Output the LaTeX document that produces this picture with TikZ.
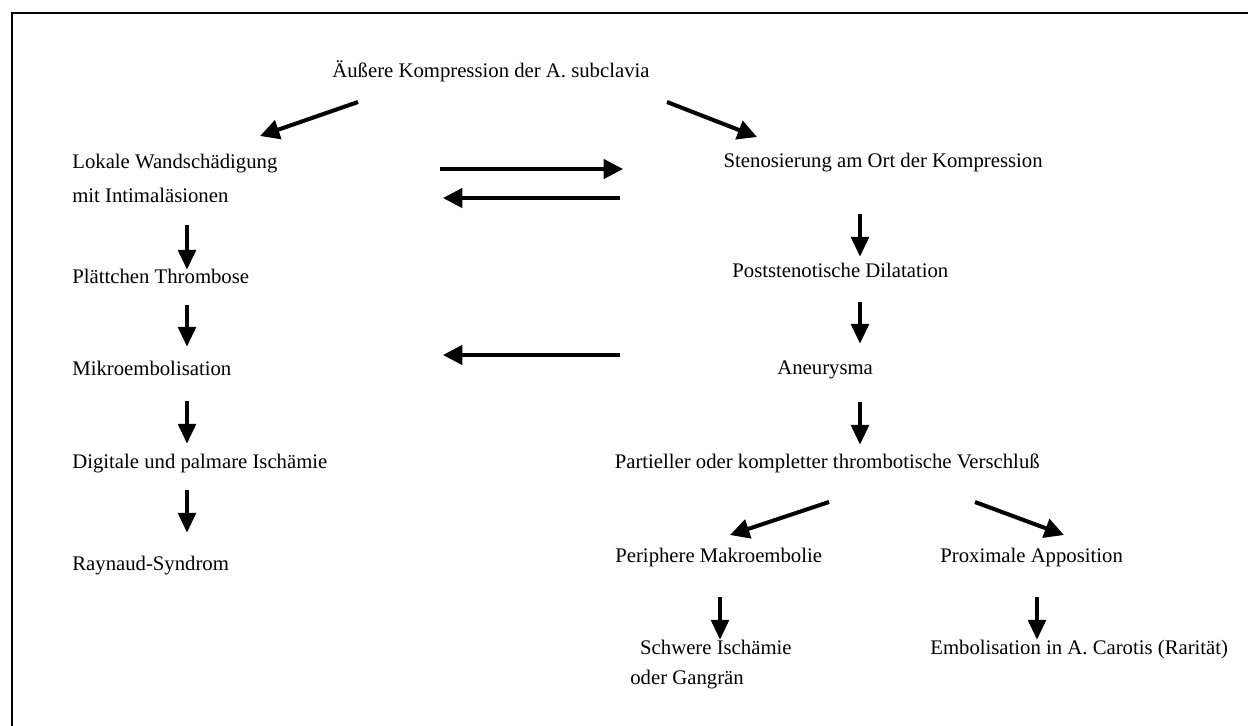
\documentclass[tikz,border=0pt]{standalone}
\usepackage{fontspec}
\setmainfont{Liberation Serif}
\usetikzlibrary{arrows.meta}

\tikzset{
  lbl/.style={inner sep=0pt, anchor=base west, font=\fontsize{11.8}{14}\selectfont},
  harrow/.style={-{Triangle[length=11pt,width=11pt]}, line width=1.9pt},
  varrow/.style={-{Triangle[length=11.5pt,width=9.8pt]}, line width=2.8pt},
  darrow/.style={-{Triangle[length=11pt,width=11pt]}, line width=2.3pt},
}

\begin{document}
\begin{tikzpicture}[x=0.02cm, y=-0.02cm]
                \useasboundingbox (0,0) rectangle (1248,725);
                % frame
                \draw[line width=1.4pt] (12,730) -- (12,13) -- (1260,13);

                % top
                \node[lbl] (kompr) at (332,77) {Äußere Kompression der A. subclavia};

                % left column
                \node[lbl, align=left, font=\fontsize{11.8}{19.3}\selectfont] (wand) at (72,202) {Lokale Wandschädigung\\mit Intimaläsionen};
                \node[lbl] (plaett) at (72,283) {Plättchen Thrombose};
                \node[lbl] (mikro) at (72,375) {Mikroembolisation};
                \node[lbl] (digit) at (72,468) {Digitale und palmare Ischämie};
                \node[lbl] (raynaud) at (72,570) {Raynaud-Syndrom};

                % right column
                \node[lbl, anchor=base east] (steno) at (1043,167) {Stenosierung am Ort der Kompression};
                \node[lbl] (dilat) at (732,277) {Poststenotische Dilatation};
                \node[lbl] (aneur) at (777,374) {Aneurysma};
                \node[lbl, anchor=base east] (verschl) at (1040,468) {Partieller oder kompletter thrombotische Verschluß};
                \node[lbl] (makro) at (615,562) {Periphere Makroembolie};
                \node[lbl] (appos) at (940,562) {Proximale Apposition};
                \node[lbl, align=left, font=\fontsize{11.8}{17}\selectfont] (gangr) at (630,684) {\hspace*{5.6pt}Schwere Ischämie\\oder Gangrän};
                \node[lbl] (carotis) at (930,654) {Embolisation in A. Carotis (Rarität)};

                % arrow ends
                \coordinate (k1) at (358,102); \coordinate (k1e) at (260,136);
                \coordinate (k2) at (667,102); \coordinate (k2e) at (757,137);
                \coordinate (w1) at (440,169); \coordinate (w1e) at (623,169);
                \coordinate (s1) at (620,198); \coordinate (s1e) at (443,198);
                \coordinate (a1) at (620,355); \coordinate (a1e) at (443,355);
                \coordinate (v1) at (829,502); \coordinate (v1e) at (730,535);
                \coordinate (v2) at (975,502); \coordinate (v2e) at (1064,535);

                % diagonal arrows
                \draw[darrow] (k1) -- (k1e);
                \draw[darrow] (k2) -- (k2e);
                \draw[darrow] (v1) -- (v1e);
                \draw[darrow] (v2) -- (v2e);

                % horizontal arrows
                \draw[harrow] (w1) -- (w1e);
                \draw[harrow] (s1) -- (s1e);
                \draw[harrow] (a1) -- (a1e);

                % left column arrows
                \draw[varrow] (187,225) -- (187,270);
                \draw[varrow] (187,305) -- (187,347);
                \draw[varrow] (187,401) -- (187,444);
                \draw[varrow] (187,490) -- (187,533);

                % right column arrows
                \draw[varrow] (860,214) -- (860,257);
                \draw[varrow] (860,302) -- (860,344);
                \draw[varrow] (860,402) -- (860,445);
                \draw[varrow] (720,597) -- (720,640);
                \draw[varrow] (1037,597) -- (1037,640);
\end{tikzpicture}
\end{document}
